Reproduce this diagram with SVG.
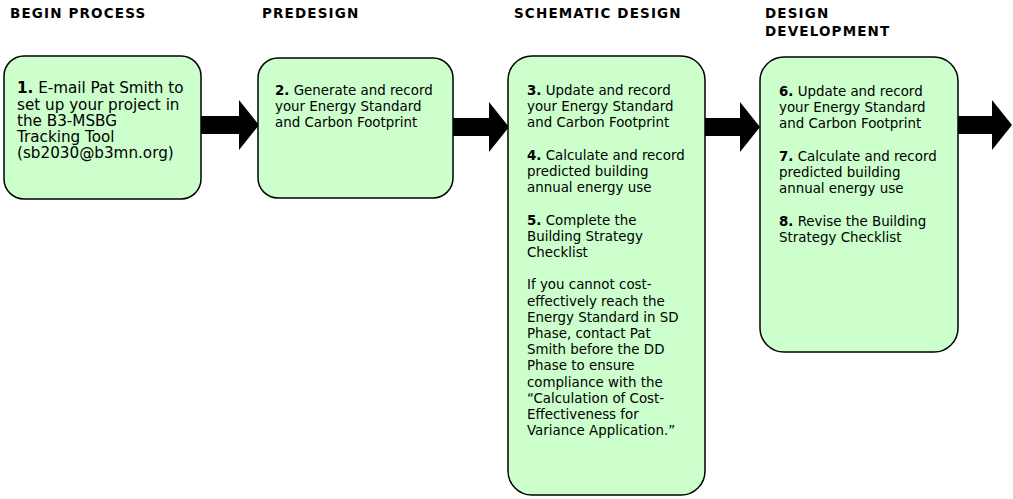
<svg xmlns="http://www.w3.org/2000/svg" width="1013" height="499" viewBox="0 0 1013 499">
<style>
.box{fill:#CCFFCC;stroke:#000;stroke-width:1.5}
.hd{font-family:"DejaVu Sans",Verdana,sans-serif;font-weight:bold;font-size:13.5px;fill:#000;letter-spacing:1.15px}
.tx{font-family:"DejaVu Sans",Verdana,sans-serif;font-size:13.4px;fill:#000}
.tx1{font-family:"DejaVu Sans",Verdana,sans-serif;font-size:15.2px;fill:#000}
.b{font-weight:bold}
.arr{fill:#000}
</style>
<rect width="1013" height="499" fill="#fff"/>
<g id="headings">
<text class="hd" x="10" y="18">BEGIN PROCESS</text>
<text class="hd" x="262" y="18">PREDESIGN</text>
<text class="hd" x="514" y="18">SCHEMATIC DESIGN</text>
<text class="hd" x="765" y="18">DESIGN</text>
<text class="hd" x="765" y="36">DEVELOPMENT</text>
</g>
<g id="connectors">
<polygon class="arr" points="201,116 239,116 239,100 259,125 239,150 239,134 201,134"/>
<polygon class="arr" points="453,118 489,118 489,102 509,127 489,152 489,136 453,136"/>
<polygon class="arr" points="705,118 740,118 740,102 760,127 740,152 740,136 705,136"/>
<polygon class="arr" points="958,116 992,116 992,100 1012,125 992,150 992,134 958,134"/>
</g>
<g id="node1">
<rect class="box" x="4" y="56" width="197" height="143" rx="20" ry="20"/>
<text class="tx1" x="17" y="93"><tspan class="b">1.</tspan> E-mail Pat Smith to</text>
<text class="tx1" x="17" y="109.5">set up your project in</text>
<text class="tx1" x="17" y="126">the B3-MSBG</text>
<text class="tx1" x="17" y="142">Tracking Tool</text>
<text class="tx1" x="17" y="158">(sb2030@b3mn.org)</text>
</g>
<g id="node2">
<rect class="box" x="258" y="58" width="195" height="140" rx="20" ry="20"/>
<text class="tx" x="275" y="95"><tspan class="b">2.</tspan> Generate and record</text>
<text class="tx" x="275" y="111">your Energy Standard</text>
<text class="tx" x="275" y="127">and Carbon Footprint</text>
</g>
<g id="node3">
<rect class="box" x="508" y="56" width="197" height="439" rx="24" ry="24"/>
<text class="tx" x="527" y="95"><tspan class="b">3.</tspan> Update and record</text>
<text class="tx" x="527" y="111.2">your Energy Standard</text>
<text class="tx" x="527" y="127.4">and Carbon Footprint</text>
<text class="tx" x="527" y="159.8"><tspan class="b">4.</tspan> Calculate and record</text>
<text class="tx" x="527" y="176">predicted building</text>
<text class="tx" x="527" y="192.2">annual energy use</text>
<text class="tx" x="527" y="224.6"><tspan class="b">5.</tspan> Complete the</text>
<text class="tx" x="527" y="240.8">Building Strategy</text>
<text class="tx" x="527" y="257">Checklist</text>
<text class="tx" x="527" y="289.4">If you cannot cost-</text>
<text class="tx" x="527" y="305.6">effectively reach the</text>
<text class="tx" x="527" y="321.8">Energy Standard in SD</text>
<text class="tx" x="527" y="338">Phase, contact Pat</text>
<text class="tx" x="527" y="354.2">Smith before the DD</text>
<text class="tx" x="527" y="370.4">Phase to ensure</text>
<text class="tx" x="527" y="386.6">compliance with the</text>
<text class="tx" x="527" y="402.8">“Calculation of Cost-</text>
<text class="tx" x="527" y="419">Effectiveness for</text>
<text class="tx" x="527" y="435.2">Variance Application.”</text>
</g>
<g id="node4">
<rect class="box" x="760" y="57" width="198" height="295" rx="24" ry="24"/>
<text class="tx" x="779" y="96"><tspan class="b">6.</tspan> Update and record</text>
<text class="tx" x="779" y="112.2">your Energy Standard</text>
<text class="tx" x="779" y="128.4">and Carbon Footprint</text>
<text class="tx" x="779" y="160.8"><tspan class="b">7.</tspan> Calculate and record</text>
<text class="tx" x="779" y="177">predicted building</text>
<text class="tx" x="779" y="193.2">annual energy use</text>
<text class="tx" x="779" y="225.6"><tspan class="b">8.</tspan> Revise the Building</text>
<text class="tx" x="779" y="241.8">Strategy Checklist</text>
</g>
</svg>
